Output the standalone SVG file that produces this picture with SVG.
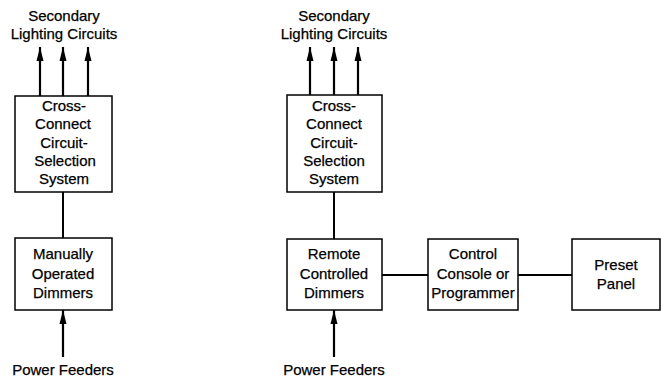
<svg xmlns="http://www.w3.org/2000/svg" width="668" height="380" viewBox="0 0 668 380">
<style>
.box{fill:#fff;stroke:#000;stroke-width:1.5}
.ln{stroke:#000;stroke-width:2;fill:none}
.ar{stroke:#000;stroke-width:2.2;fill:none;marker-end:url(#ah)}
text{font-family:"Liberation Sans",Arial,sans-serif;font-size:15px;fill:#000;text-anchor:middle;stroke:#000;stroke-width:0.25}
</style>
<defs>
<marker id="ah" markerUnits="userSpaceOnUse" markerWidth="14" markerHeight="8" refX="14" refY="4" orient="auto" viewBox="0 0 14 8">
<path d="M0,0.5 L14,4 L0,7.5 Z" fill="#000"/>
</marker>
</defs>
<rect width="668" height="380" fill="#fff"/>
<g id="connectors">
<path class="ar" d="M40,96 V47"/>
<path class="ar" d="M63,96 V47"/>
<path class="ar" d="M88,96 V47"/>
<path class="ln" d="M63,192 V238"/>
<path class="ar" d="M63,357 V310"/>
<path class="ar" d="M310,95 V47"/>
<path class="ar" d="M334,95 V47"/>
<path class="ar" d="M358,95 V47"/>
<path class="ln" d="M334,192 V239"/>
<path class="ar" d="M334,357 V310"/>
<path class="ln" d="M382,275 H428"/>
<path class="ln" d="M518,275 H572"/>
</g>
<g id="label-sec-left"><text x="64" y="21">Secondary</text><text x="64" y="39">Lighting Circuits</text></g>
<g id="cross-left">
<rect class="box" x="15" y="96" width="97" height="96"/>
<text x="64" y="111">Cross-</text><text x="63" y="129">Connect</text><text x="64" y="148">Circuit-</text><text x="65" y="166">Selection</text><text x="64" y="184">System</text>
</g>
<g id="manual">
<rect class="box" x="15" y="238" width="97" height="72"/>
<text x="63" y="259">Manually</text><text x="63" y="279">Operated</text><text x="63" y="298">Dimmers</text>
</g>
<g id="power-left"><text x="63" y="375">Power Feeders</text></g>
<g id="label-sec-right"><text x="334" y="21">Secondary</text><text x="334" y="39">Lighting Circuits</text></g>
<g id="cross-right">
<rect class="box" x="287" y="95" width="95" height="97"/>
<text x="334" y="111">Cross-</text><text x="334" y="129">Connect</text><text x="334" y="148">Circuit-</text><text x="334" y="166">Selection</text><text x="334" y="184">System</text>
</g>
<g id="remote">
<rect class="box" x="287" y="239" width="95" height="71"/>
<text x="334" y="259">Remote</text><text x="334" y="279">Controlled</text><text x="334" y="298">Dimmers</text>
</g>
<g id="control">
<rect class="box" x="428" y="239" width="90" height="71"/>
<text x="473" y="259">Control</text><text x="473" y="279">Console or</text><text x="473" y="298">Programmer</text>
</g>
<g id="preset">
<rect class="box" x="572" y="239" width="88" height="71"/>
<text x="616" y="270">Preset</text><text x="616" y="289">Panel</text>
</g>
<g id="power-right"><text x="334" y="375">Power Feeders</text></g>
</svg>
